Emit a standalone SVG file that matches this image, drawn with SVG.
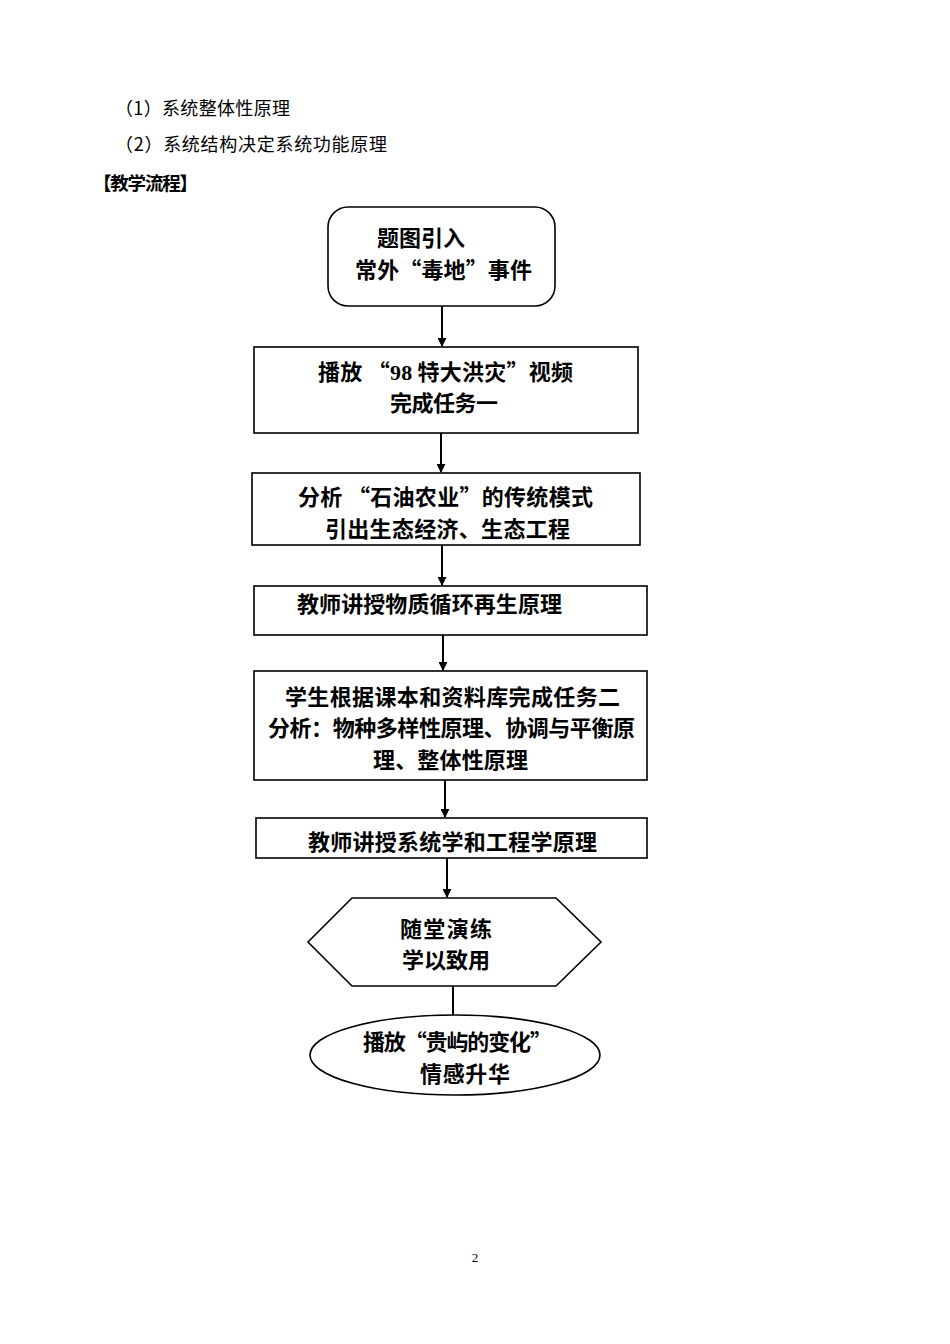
<svg xmlns="http://www.w3.org/2000/svg" width="950" height="1344" viewBox="0 0 950 1344">
<style>
.t{font-family:"Noto Sans CJK SC","Noto Sans",sans-serif;fill:#000}
.p{font-size:18px}
.h{font-size:18.5px;font-weight:700}
.b{font-size:22px;font-weight:700}
.n{font-family:"Liberation Serif",serif;font-weight:700}
.s{fill:#fff;stroke:#000;stroke-width:1.6}
.c{stroke:#000;stroke-width:2;fill:none}
</style>
<defs>
<marker id="a" viewBox="0 0 10 10" refX="9" refY="5" markerWidth="9" markerHeight="9" orient="auto" markerUnits="userSpaceOnUse"><path d="M0,0 L10,5 L0,10 z" fill="#000"/></marker>
</defs>
<rect width="950" height="1344" fill="#fff"/>
<text class="t p" x="115" y="115" textLength="175" lengthAdjust="spacing">（1）系统整体性原理</text>
<text class="t p" x="115" y="151" textLength="272" lengthAdjust="spacing">（2）系统结构决定系统功能原理</text>
<text class="t h" x="93" y="190" textLength="105" lengthAdjust="spacing">【教学流程】</text>
<g id="connectors">
<line class="c" x1="442" y1="306" x2="442" y2="346" marker-end="url(#a)"/>
<line class="c" x1="441" y1="433" x2="441" y2="472" marker-end="url(#a)"/>
<line class="c" x1="442" y1="545" x2="442" y2="585" marker-end="url(#a)"/>
<line class="c" x1="443" y1="635" x2="443" y2="670" marker-end="url(#a)"/>
<line class="c" x1="445" y1="780" x2="445" y2="817" marker-end="url(#a)"/>
<line class="c" x1="447" y1="858" x2="447" y2="897" marker-end="url(#a)"/>
<line class="c" x1="453" y1="986" x2="453" y2="1015"/>
</g>
<g id="n1">
<rect class="s" x="328" y="207" width="227" height="99" rx="20"/>
<text class="t b" x="377" y="246" textLength="88" lengthAdjust="spacing">题图引入</text>
<text class="t b" x="355" y="278" textLength="177" lengthAdjust="spacing">常外“毒地”事件</text>
</g>
<g id="n2">
<rect class="s" x="254" y="347" width="384" height="86"/>
<text class="t b" x="318" y="380" textLength="255" lengthAdjust="spacing">播放 “<tspan class="n">98</tspan> 特大洪灾”视频</text>
<text class="t b" x="390" y="411" textLength="108" lengthAdjust="spacing">完成任务一</text>
</g>
<g id="n3">
<rect class="s" x="252" y="473" width="388" height="72"/>
<text class="t b" x="298" y="505" textLength="295" lengthAdjust="spacing">分析 “石油农业”的传统模式</text>
<text class="t b" x="325" y="537" textLength="245" lengthAdjust="spacing">引出生态经济、生态工程</text>
</g>
<g id="n4">
<rect class="s" x="254" y="586" width="393" height="49"/>
<text class="t b" x="297" y="612" textLength="265" lengthAdjust="spacing">教师讲授物质循环再生原理</text>
</g>
<g id="n5">
<rect class="s" x="254" y="671" width="393" height="109"/>
<text class="t b" x="285" y="705" textLength="335" lengthAdjust="spacing">学生根据课本和资料库完成任务二</text>
<text class="t b" x="268" y="736" textLength="367" lengthAdjust="spacing">分析：物种多样性原理、协调与平衡原</text>
<text class="t b" x="373" y="768" textLength="155" lengthAdjust="spacing">理、整体性原理</text>
</g>
<g id="n6">
<rect class="s" x="256" y="818" width="391" height="40"/>
<text class="t b" x="308" y="850" textLength="289" lengthAdjust="spacing">教师讲授系统学和工程学原理</text>
</g>
<g id="n7">
<polygon class="s" points="308,942 352,898 556,898 601,942 556,986 352,986"/>
<text class="t b" x="400" y="937" textLength="92" lengthAdjust="spacing">随堂演练</text>
<text class="t b" x="402" y="968" textLength="88" lengthAdjust="spacing">学以致用</text>
</g>
<g id="n8">
<ellipse class="s" cx="455" cy="1055" rx="145" ry="40"/>
<text class="t b" x="363" y="1050" textLength="189" lengthAdjust="spacing">播放“贵屿的变化”</text>
<text class="t b" x="420" y="1082" textLength="90" lengthAdjust="spacing">情感升华</text>
</g>
<text x="475" y="1262" font-family="Liberation Serif,serif" font-size="13" text-anchor="middle">2</text>
</svg>
